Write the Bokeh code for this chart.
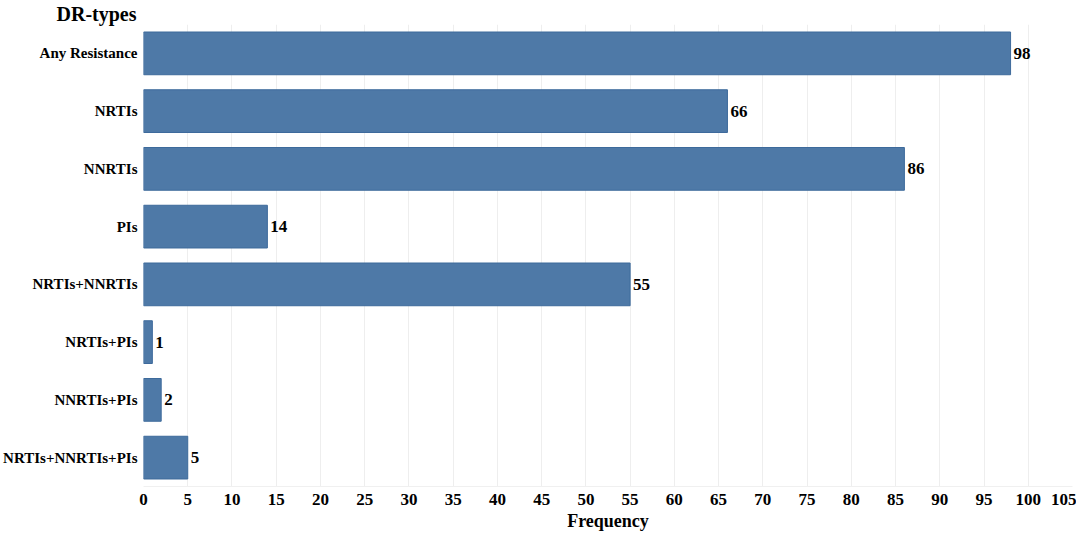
from bokeh.plotting import figure
from bokeh.models import ColumnDataSource, Title, FixedTicker
from bokeh.embed import file_html
from bokeh.resources import INLINE
from bokeh.core.properties import value

categories = ["Any Resistance", "NRTIs", "NNRTIs", "PIs", "NRTIs+NNRTIs",
              "NRTIs+PIs", "NNRTIs+PIs", "NRTIs+NNRTIs+PIs"]
frequency = [98, 66, 86, 14, 55, 1, 2, 5]
x_ticks = list(range(0, 110, 5))

FONT = "Liberation Serif"
src = ColumnDataSource(dict(cat=categories, freq=frequency,
                            lab=[str(v) for v in frequency]))

p = figure(width=1076, height=533, y_range=list(reversed(categories)),
           x_range=(0, 105.0), output_backend="svg", toolbar_location=None,
           min_border_left=141, min_border_right=4, min_border_bottom=44,
           min_border_top=14)

p.hbar(y="cat", right="freq", left=0, height=0.74, source=src,
       fill_color="#4e79a7", line_color="#3d6a9b", line_width=1)
p.text(x="freq", y="cat", text="lab", source=src, x_offset=3,
       text_baseline="middle", text_align="left", text_font=value(FONT),
       text_font_style="bold", text_font_size="17px", text_color="#000000")

p.add_layout(Title(text="DR-types", align="left", offset=-87,
                   text_font=FONT, text_font_style="bold",
                   text_font_size="20px", text_color="#000000",
                   standoff=0), "above")

p.xaxis.ticker = FixedTicker(ticks=x_ticks)
p.xaxis.axis_label = "Frequency"
p.xaxis.axis_label_text_font = FONT
p.xaxis.axis_label_text_font_style = "bold"
p.xaxis.axis_label_text_font_size = "18px"
p.xaxis.axis_label_text_color = "#000000"
p.xaxis.axis_label_standoff = 3
p.xaxis.major_label_text_font = FONT
p.xaxis.major_label_text_font_style = "bold"
p.xaxis.major_label_text_font_size = "17px"
p.xaxis.major_label_text_color = "#000000"
p.xaxis.major_label_standoff = 7
p.xaxis.axis_line_color = "#f0f0f0"
p.xaxis.major_tick_line_color = None
p.xaxis.major_tick_out = 0
p.xaxis.major_tick_in = 0
p.xaxis.minor_tick_line_color = None

p.yaxis.major_label_text_font = FONT
p.yaxis.major_label_text_font_style = "bold"
p.yaxis.major_label_text_font_size = "15px"
p.yaxis.major_label_text_color = "#000000"
p.yaxis.axis_line_color = None
p.yaxis.major_tick_line_color = None
p.yaxis.minor_tick_line_color = None
p.yaxis.major_label_standoff = 0

p.xgrid.grid_line_color = "#eeeeee"
p.xgrid.ticker = FixedTicker(ticks=x_ticks)
p.ygrid.grid_line_color = None
p.outline_line_color = None

open("out.html", "w").write(file_html(p, INLINE))
